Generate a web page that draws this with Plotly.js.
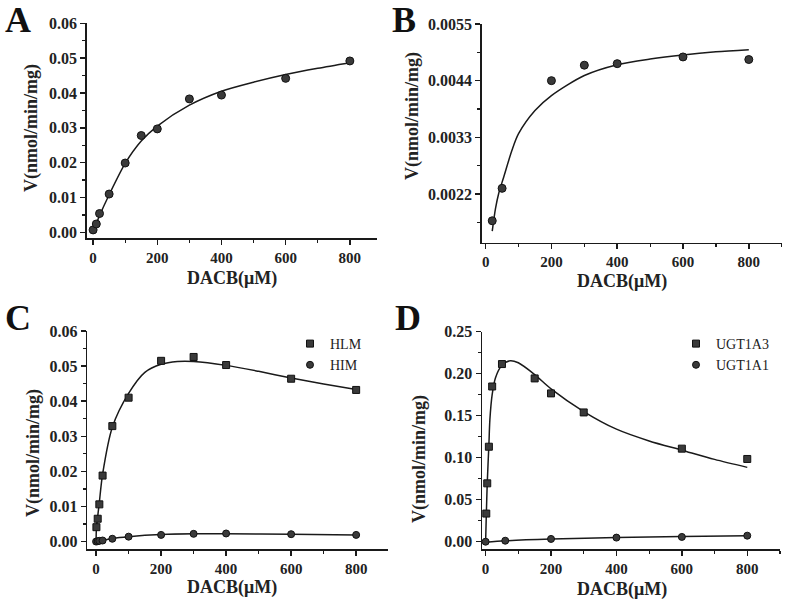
<!DOCTYPE html>
<html>
<head>
<meta charset="utf-8">
<script src="https://cdn.plot.ly/plotly-3.0.1.min.js"></script>
<style>
  html, body { margin: 0; padding: 0; background: #fff; }
  #chart { width: 788px; height: 604px; }
</style>
</head>
<body>
<div id="chart"></div>
<script>
// panel A - measured points and fitted curve
let aX = [0, 10, 20, 50, 100, 150, 200, 300, 400, 600, 800];
let aY = [0.0007, 0.0024, 0.0054, 0.011, 0.0199, 0.0278, 0.0297, 0.0383, 0.0394, 0.0442, 0.0492];
let aFitX = [0, 10, 20, 50, 100, 150, 200, 300, 400, 500, 600, 700, 800];
let aFitY = [0.0004, 0.0025, 0.0048, 0.0108, 0.0198, 0.0262, 0.0305, 0.0365, 0.0405, 0.0431, 0.0453, 0.0471, 0.0487];

// panel B
let bX = [20, 50, 200, 300, 400, 600, 800];
let bY = [0.00168, 0.00231, 0.0044, 0.0047, 0.00473, 0.00486, 0.00481];
let bFitX = [20, 30, 40, 55, 80, 100, 150, 200, 300, 400, 500, 600, 700, 800];
let bFitY = [0.00148, 0.00192, 0.00222, 0.00253, 0.00305, 0.00337, 0.00382, 0.00411, 0.0045, 0.00471, 0.00482, 0.0049, 0.00496, 0.005];

// panel C - HLM / HIM
let hlmX = [1, 5, 10, 20, 50, 100, 200, 300, 400, 600, 800];
let hlmY = [0.0041, 0.0065, 0.0106, 0.0188, 0.0329, 0.041, 0.0515, 0.0526, 0.0503, 0.0464, 0.0432];
let hlmFitX = [0, 1, 5, 10, 20, 50, 100, 150, 200, 250, 300, 400, 500, 600, 700, 800];
let hlmFitY = [0, 0.0038, 0.0072, 0.0112, 0.0192, 0.0326, 0.0422, 0.0482, 0.0505, 0.0513, 0.0513, 0.0502, 0.0485, 0.0466, 0.0449, 0.0433];
let himX = [0, 5, 10, 20, 50, 100, 200, 300, 400, 600, 800];
let himY = [0, 0.0001, 0.0002, 0.0003, 0.0008, 0.0014, 0.0019, 0.0022, 0.0023, 0.0021, 0.0019];
let himFitX = [0, 20, 50, 100, 200, 300, 400, 600, 800];
let himFitY = [0, 0.0004, 0.0009, 0.0014, 0.002, 0.0022, 0.0022, 0.0021, 0.0019];

// panel D - UGT1A3 / UGT1A1
let ugt3X = [2, 5, 10, 20, 50, 150, 200, 300, 600, 800];
let ugt3Y = [0.0335, 0.0695, 0.1131, 0.1848, 0.2115, 0.1944, 0.1766, 0.1539, 0.1108, 0.0985];
let ugt3FitX = [0, 2, 5, 10, 13, 20, 30, 50, 75, 100, 150, 200, 300, 400, 500, 600, 700, 800];
let ugt3FitY = [0, 0.03, 0.07, 0.115, 0.145, 0.175, 0.195, 0.21, 0.2155, 0.213, 0.199, 0.182, 0.155, 0.134, 0.12, 0.109, 0.098, 0.0885];
let ugt1X = [0, 60, 200, 400, 600, 800];
let ugt1Y = [0, 0.0012, 0.0033, 0.0049, 0.0057, 0.0072];
let ugt1FitX = [0, 60, 200, 400, 600, 800];
let ugt1FitY = [-0.0005, 0.0011, 0.0032, 0.0051, 0.0062, 0.0072];

let xTitle = "DACB(μM)";
let yTitle = "V(nmol/min/mg)";
let panelLetters = ["A", "B", "C", "D"];

let fontFam = '"Liberation Serif", "Times New Roman", serif';
let ink = "#1a1a1a";

function pts(x, y, xa, ya, symbol, size, name, legend) {
    return {
        x: x, y: y, xaxis: xa, yaxis: ya,
        type: "scatter", mode: "markers",
        name: name || "", showlegend: !!name, legend: legend || "legend",
        marker: { symbol: symbol, size: size, color: "#3a3a3a", line: { color: "#111", width: 1 } }
    };
}

function fit(x, y, xa, ya) {
    return {
        x: x, y: y, xaxis: xa, yaxis: ya,
        type: "scatter", mode: "lines", showlegend: false, hoverinfo: "skip",
        line: { color: ink, width: 1.5, shape: "spline", smoothing: 0.8 }
    };
}

function xAxis(domain, range, anchor) {
    return {
        domain: domain, range: range, anchor: anchor,
        showline: true, linecolor: ink, linewidth: 1.5,
        ticks: "outside", ticklen: 5, tickwidth: 1.5, tickcolor: ink,
        tick0: 0, dtick: 200,
        minor: { ticks: "outside", ticklen: 3, tickwidth: 1.2, tickcolor: ink, dtick: 100, showgrid: false },
        showgrid: false, zeroline: false,
        tickfont: { family: fontFam, size: 15, weight: "bold", color: "#222" }
    };
}

function yAxis(domain, range, anchor, dtick, fmt) {
    return {
        domain: domain, range: range, anchor: anchor,
        showline: true, linecolor: ink, linewidth: 1.5,
        ticks: "outside", ticklen: 5, tickwidth: 1.5, tickcolor: ink,
        tick0: 0, dtick: dtick, tickformat: fmt,
        minor: { ticks: "outside", ticklen: 3, tickwidth: 1.2, tickcolor: ink, dtick: dtick / 2, showgrid: false },
        showgrid: false, zeroline: false,
        tickfont: { family: fontFam, size: 16, weight: "bold", color: "#222" }
    };
}

let data = [
    fit(aFitX, aFitY, "x", "y"),
    pts(aX, aY, "x", "y", "circle", 8),
    fit(bFitX, bFitY, "x2", "y2"),
    pts(bX, bY, "x2", "y2", "circle", 8),
    fit(hlmFitX, hlmFitY, "x3", "y3"),
    fit(himFitX, himFitY, "x3", "y3"),
    pts(hlmX, hlmY, "x3", "y3", "square", 7, "HLM", "legend"),
    pts(himX, himY, "x3", "y3", "circle", 7, "HIM", "legend"),
    fit(ugt3FitX, ugt3FitY, "x4", "y4"),
    fit(ugt1FitX, ugt1FitY, "x4", "y4"),
    pts(ugt3X, ugt3Y, "x4", "y4", "square", 7, "UGT1A3", "legend2"),
    pts(ugt1X, ugt1Y, "x4", "y4", "circle", 7, "UGT1A1", "legend2")
];

let legendBase = {
    xanchor: "left", yanchor: "top", bgcolor: "rgba(0,0,0,0)",
    itemwidth: 30, tracegroupgap: 0,
    font: { family: fontFam, size: 14, color: "#222" }
};

let letterFont = { family: fontFam, size: 36, weight: "bold", color: "#111" };
let titleFont = { family: fontFam, size: 18, weight: "bold", color: "#222" };

// pixel spots for the panel letters and axis titles (paper coords)
let letterPos = [[18, 20], [404, 20], [18, 318], [408, 318]];
let xTitlePos = [[232, 278], [622, 281], [232, 587], [622, 589]];
let yTitlePos = [[32, 128], [413, 116], [33, 453], [419, 459]];

let annotations = [];
function px(x, y) {
    return {
        x: x / 788, y: 1 - y / 604, xref: "paper", yref: "paper",
        xanchor: "center", yanchor: "middle", showarrow: false
    };
}
for (let i = 0; i < 4; i++) {
    annotations.push(Object.assign(px(letterPos[i][0], letterPos[i][1]), { text: panelLetters[i], font: letterFont }));
    annotations.push(Object.assign(px(xTitlePos[i][0], xTitlePos[i][1]), { text: xTitle, font: titleFont }));
    annotations.push(Object.assign(px(yTitlePos[i][0], yTitlePos[i][1]), { text: yTitle, font: titleFont, textangle: -90 }));
}

let layout = {
    width: 788, height: 604,
    margin: { l: 0, r: 0, t: 0, b: 0 },
    paper_bgcolor: "#fff", plot_bgcolor: "#fff",
    showlegend: true,
    xaxis: xAxis([0.110, 0.479], [-20, 886], "y"),
    yaxis: yAxis([0.6055, 0.9614], [-0.0017, 0.06], "x", 0.01, ".2f"),
    xaxis2: xAxis([0.6113, 0.992], [-12, 900], "y2"),
    yaxis2: yAxis([0.5982, 0.9603], [0.001255, 0.0055], "x2", 0.0011, ".4f"),
    xaxis3: xAxis([0.1108, 0.4924], [-27, 898], "y3"),
    yaxis3: yAxis([0.0906, 0.452], [-0.0022, 0.06], "x3", 0.01, ".2f"),
    xaxis4: xAxis([0.6117, 0.9898], [-11, 900], "y4"),
    yaxis4: yAxis([0.0906, 0.4508], [-0.009, 0.25], "x4", 0.05, ".2f"),
    legend: Object.assign({ x: 290 / 788, y: 1 - 328 / 604 }, legendBase),
    legend2: Object.assign({ x: 676 / 788, y: 1 - 328 / 604 }, legendBase),
    annotations: annotations
};

Plotly.newPlot("chart", data, layout, { displayModeBar: false, staticPlot: true });
</script>
</body>
</html>
